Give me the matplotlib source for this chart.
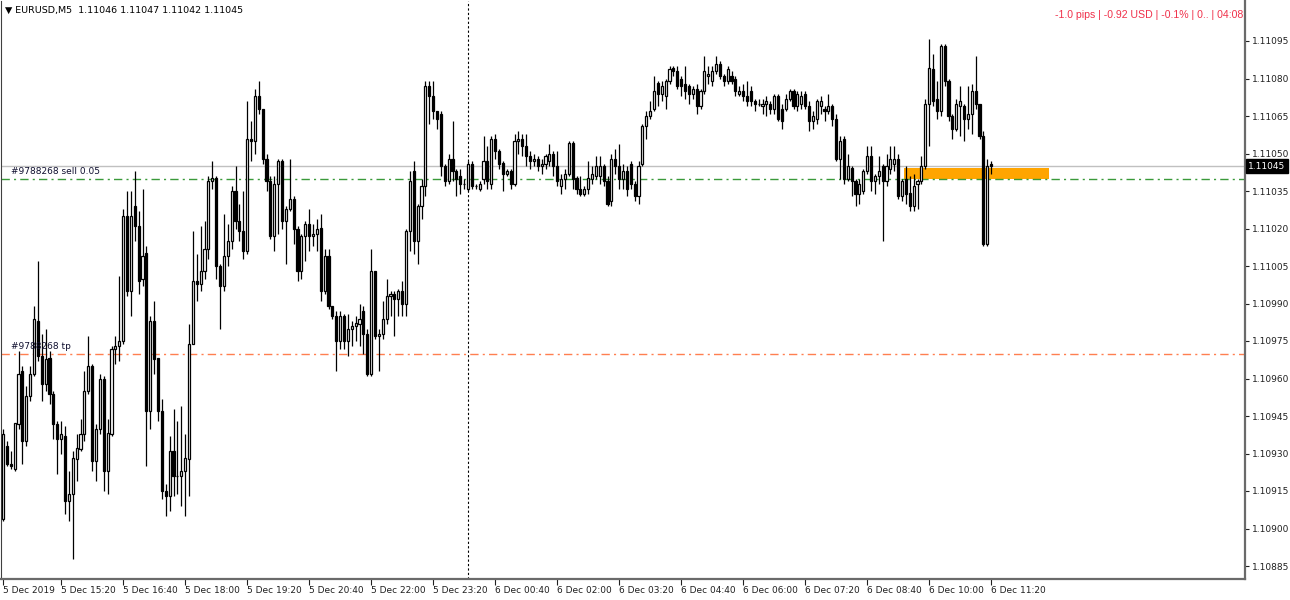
import matplotlib
matplotlib.use("Agg")
import matplotlib.pyplot as plt
import matplotlib.transforms as mtransforms
import numpy as np
import pandas as pd

# EURUSD M5 bars, 5 Dec 2019 14:05 -> 6 Dec 2019 11:20
opens = [
    1.10904, 1.10933, 1.10926, 1.10924, 1.10942, 1.10963, 1.10935, 1.10953, 1.10962, 1.10983,
    1.10969, 1.10958, 1.10968, 1.10954, 1.10942, 1.10936, 1.10937, 1.10911, 1.10914, 1.10928,
    1.10932, 1.10938, 1.10955, 1.10965, 1.10927, 1.10940, 1.10960, 1.10923, 1.10938, 1.10972,
    1.10973, 1.10975, 1.11025, 1.10995, 1.11029, 1.11021, 1.11000, 1.11010, 1.10947, 1.10983,
    1.10968, 1.10947, 1.10915, 1.10913, 1.10931, 1.10921, 1.10921, 1.10923, 1.10928, 1.10974,
    1.10999, 1.10998, 1.11003, 1.11012, 1.11039, 1.11040, 1.11005, 1.10997, 1.11009, 1.11015,
    1.11035, 1.11023, 1.11019, 1.11011, 1.11056, 1.11055, 1.11073, 1.11068, 1.11048, 1.11039,
    1.11017, 1.11038, 1.11047, 1.11023, 1.11028, 1.11032, 1.11020, 1.11003, 1.11017, 1.11022,
    1.11017, 1.11018, 1.11020, 1.10995, 1.11009, 1.10989, 1.10985, 1.10975, 1.10985, 1.10975,
    1.10980, 1.10981, 1.10982, 1.10987, 1.10978, 1.10962, 1.11003, 1.10977, 1.10978, 1.10984,
    1.10993, 1.10994, 1.10992, 1.10995, 1.10990, 1.11019, 1.11043, 1.11015, 1.11029, 1.11037,
    1.11077, 1.11073, 1.11067, 1.11066, 1.11045, 1.11039, 1.11048, 1.11043, 1.11041, 1.11038,
    1.11036, 1.11046, 1.11037, 1.11036, 1.11040, 1.11047, 1.11038, 1.11056, 1.11051, 1.11046,
    1.11042, 1.11043, 1.11038, 1.11055, 1.11056, 1.11053, 1.11049, 1.11047, 1.11048, 1.11045,
    1.11046, 1.11047, 1.11050, 1.11045, 1.11037, 1.11040, 1.11042, 1.11054, 1.11040, 1.11036,
    1.11034, 1.11036, 1.11040, 1.11041, 1.11041, 1.11045, 1.11039, 1.11031, 1.11048, 1.11045,
    1.11040, 1.11043, 1.11046, 1.11038, 1.11033, 1.11046, 1.11061, 1.11065, 1.11068, 1.11078,
    1.11074, 1.11073, 1.11079, 1.11084, 1.11083, 1.11080, 1.11078, 1.11077, 1.11074, 1.11076,
    1.11069, 1.11075, 1.11081, 1.11079, 1.11083, 1.11086, 1.11081, 1.11079, 1.11081, 1.11080,
    1.11074, 1.11075, 1.11073, 1.11075, 1.11071, 1.11070, 1.11069, 1.11070, 1.11070, 1.11068,
    1.11073, 1.11068, 1.11068, 1.11072, 1.11075, 1.11069, 1.11070, 1.11074, 1.11069, 1.11063,
    1.11064, 1.11069, 1.11068, 1.11067, 1.11069, 1.11064, 1.11048, 1.11056, 1.11040, 1.11044,
    1.11039, 1.11034, 1.11035, 1.11043, 1.11049, 1.11039, 1.11041, 1.11045, 1.11039, 1.11044,
    1.11046, 1.11048, 1.11033, 1.11040, 1.11034, 1.11029, 1.11038, 1.11039, 1.11045, 1.11070,
    1.11084, 1.11072, 1.11067, 1.11093, 1.11079, 1.11065, 1.11060, 1.11069, 1.11069, 1.11064,
    1.11066, 1.11075, 1.11070, 1.11057, 1.11014, 1.11046,
]
closes = [
    1.10938, 1.10926, 1.10925, 1.10942, 1.10962, 1.10935, 1.10953, 1.10962, 1.10984, 1.10969,
    1.10958, 1.10968, 1.10954, 1.10942, 1.10936, 1.10938, 1.10911, 1.10914, 1.10928, 1.10932,
    1.10938, 1.10955, 1.10965, 1.10927, 1.10940, 1.10960, 1.10923, 1.10938, 1.10972, 1.10973,
    1.10975, 1.11025, 1.10995, 1.11025, 1.11021, 1.10999, 1.11009, 1.10947, 1.10983, 1.10968,
    1.10947, 1.10915, 1.10913, 1.10931, 1.10921, 1.10921, 1.10923, 1.10928, 1.10974, 1.10999,
    1.10998, 1.11003, 1.11012, 1.11039, 1.11040, 1.11005, 1.10997, 1.11009, 1.11015, 1.11035,
    1.11023, 1.11019, 1.11011, 1.11056, 1.11055, 1.11073, 1.11068, 1.11048, 1.11039, 1.11017,
    1.11038, 1.11047, 1.11023, 1.11028, 1.11032, 1.11020, 1.11003, 1.11017, 1.11022, 1.11017,
    1.11018, 1.11020, 1.10995, 1.11009, 1.10989, 1.10985, 1.10975, 1.10985, 1.10975, 1.10980,
    1.10981, 1.10982, 1.10984, 1.10978, 1.10962, 1.11003, 1.10977, 1.10978, 1.10984, 1.10993,
    1.10994, 1.10992, 1.10995, 1.10990, 1.11019, 1.11039, 1.11015, 1.11029, 1.11037, 1.11077,
    1.11073, 1.11067, 1.11064, 1.11045, 1.11039, 1.11048, 1.11043, 1.11040, 1.11038, 1.11038,
    1.11046, 1.11037, 1.11037, 1.11038, 1.11047, 1.11039, 1.11056, 1.11051, 1.11046, 1.11042,
    1.11043, 1.11038, 1.11055, 1.11056, 1.11053, 1.11049, 1.11047, 1.11048, 1.11045, 1.11046,
    1.11049, 1.11050, 1.11045, 1.11039, 1.11040, 1.11042, 1.11054, 1.11040, 1.11036, 1.11034,
    1.11036, 1.11040, 1.11042, 1.11045, 1.11045, 1.11039, 1.11030, 1.11048, 1.11045, 1.11040,
    1.11043, 1.11036, 1.11038, 1.11033, 1.11045, 1.11061, 1.11065, 1.11067, 1.11075, 1.11074,
    1.11077, 1.11079, 1.11084, 1.11083, 1.11077, 1.11077, 1.11075, 1.11074, 1.11076, 1.11069,
    1.11075, 1.11083, 1.11082, 1.11083, 1.11086, 1.11081, 1.11079, 1.11084, 1.11079, 1.11075,
    1.11075, 1.11073, 1.11071, 1.11071, 1.11070, 1.11070, 1.11070, 1.11071, 1.11068, 1.11073,
    1.11064, 1.11063, 1.11072, 1.11075, 1.11069, 1.11074, 1.11073, 1.11069, 1.11063, 1.11065,
    1.11071, 1.11071, 1.11067, 1.11069, 1.11064, 1.11048, 1.11055, 1.11040, 1.11045, 1.11039,
    1.11034, 1.11038, 1.11043, 1.11049, 1.11039, 1.11041, 1.11043, 1.11039, 1.11045, 1.11048,
    1.11048, 1.11033, 1.11039, 1.11034, 1.11029, 1.11037, 1.11039, 1.11045, 1.11070, 1.11084,
    1.11071, 1.11067, 1.11093, 1.11079, 1.11065, 1.11060, 1.11070, 1.11071, 1.11064, 1.11066,
    1.11075, 1.11070, 1.11057, 1.11014, 1.11045, 1.11045,
]
highs = [
    1.10940, 1.10935, 1.10931, 1.10942, 1.10971, 1.10965, 1.10957, 1.10965, 1.10989, 1.11007,
    1.10978, 1.10980, 1.10971, 1.10955, 1.10943, 1.10943, 1.10941, 1.10923, 1.10931, 1.10938,
    1.10944, 1.10963, 1.10977, 1.10966, 1.10942, 1.10962, 1.10961, 1.10944, 1.10973, 1.10977,
    1.11001, 1.11028, 1.11035, 1.11035, 1.11043, 1.11027, 1.11036, 1.11013, 1.10985, 1.10991,
    1.10968, 1.10952, 1.10918, 1.10937, 1.10948, 1.10943, 1.10949, 1.10938, 1.10982, 1.11019,
    1.11010, 1.11021, 1.11023, 1.11041, 1.11047, 1.11041, 1.11006, 1.11026, 1.11022, 1.11037,
    1.11045, 1.11030, 1.11035, 1.11071, 1.11063, 1.11076, 1.11079, 1.11068, 1.11050, 1.11041,
    1.11041, 1.11048, 1.11048, 1.11029, 1.11048, 1.11033, 1.11021, 1.11018, 1.11023, 1.11028,
    1.11022, 1.11024, 1.11026, 1.11012, 1.11012, 1.10989, 1.10987, 1.10987, 1.10986, 1.10986,
    1.10983, 1.10985, 1.10990, 1.10989, 1.10980, 1.11012, 1.11003, 1.10980, 1.10991, 1.11000,
    1.10995, 1.10995, 1.10996, 1.10999, 1.11020, 1.11043, 1.11047, 1.11030, 1.11040, 1.11079,
    1.11079, 1.11079, 1.11067, 1.11067, 1.11046, 1.11050, 1.11063, 1.11044, 1.11044, 1.11040,
    1.11047, 1.11047, 1.11038, 1.11039, 1.11057, 1.11053, 1.11057, 1.11058, 1.11052, 1.11047,
    1.11044, 1.11044, 1.11058, 1.11059, 1.11058, 1.11058, 1.11051, 1.11050, 1.11049, 1.11048,
    1.11050, 1.11054, 1.11051, 1.11051, 1.11042, 1.11044, 1.11055, 1.11055, 1.11041, 1.11041,
    1.11037, 1.11047, 1.11045, 1.11049, 1.11049, 1.11046, 1.11041, 1.11050, 1.11052, 1.11054,
    1.11046, 1.11045, 1.11047, 1.11039, 1.11047, 1.11062, 1.11067, 1.11071, 1.11081, 1.11079,
    1.11079, 1.11080, 1.11085, 1.11085, 1.11085, 1.11081, 1.11085, 1.11078, 1.11077, 1.11078,
    1.11076, 1.11089, 1.11085, 1.11085, 1.11089, 1.11087, 1.11082, 1.11085, 1.11083, 1.11081,
    1.11077, 1.11078, 1.11079, 1.11077, 1.11072, 1.11072, 1.11072, 1.11073, 1.11071, 1.11074,
    1.11074, 1.11070, 1.11074, 1.11076, 1.11076, 1.11075, 1.11075, 1.11075, 1.11071, 1.11067,
    1.11072, 1.11073, 1.11069, 1.11074, 1.11070, 1.11066, 1.11057, 1.11057, 1.11050, 1.11045,
    1.11040, 1.11040, 1.11044, 1.11053, 1.11053, 1.11042, 1.11049, 1.11046, 1.11050, 1.11053,
    1.11053, 1.11050, 1.11040, 1.11045, 1.11041, 1.11042, 1.11040, 1.11049, 1.11072, 1.11096,
    1.11090, 1.11079, 1.11094, 1.11094, 1.11080, 1.11066, 1.11072, 1.11077, 1.11070, 1.11077,
    1.11078, 1.11089, 1.11070, 1.11059, 1.11048, 1.11047,
]
lows = [
    1.10903, 1.10925, 1.10924, 1.10923, 1.10940, 1.10926, 1.10933, 1.10951, 1.10961, 1.10967,
    1.10951, 1.10955, 1.10950, 1.10936, 1.10922, 1.10930, 1.10906, 1.10903, 1.10888, 1.10919,
    1.10931, 1.10935, 1.10954, 1.10923, 1.10919, 1.10938, 1.10915, 1.10914, 1.10937, 1.10966,
    1.10967, 1.10974, 1.10993, 1.10985, 1.11015, 1.10994, 1.10997, 1.10925, 1.10940, 1.10962,
    1.10943, 1.10912, 1.10905, 1.10907, 1.10913, 1.10914, 1.10909, 1.10905, 1.10913, 1.10974,
    1.10991, 1.10995, 1.11000, 1.11008, 1.11036, 1.11000, 1.10980, 1.10995, 1.11005, 1.11012,
    1.11020, 1.11015, 1.11008, 1.11010, 1.11047, 1.11050, 1.11066, 1.11046, 1.11035, 1.11016,
    1.11011, 1.11018, 1.11020, 1.11006, 1.11027, 1.11014, 1.10999, 1.11000, 1.11007, 1.11011,
    1.11013, 1.11011, 1.10991, 1.10994, 1.10988, 1.10984, 1.10963, 1.10972, 1.10972, 1.10969,
    1.10973, 1.10975, 1.10973, 1.10970, 1.10961, 1.10961, 1.10976, 1.10963, 1.10976, 1.10982,
    1.10985, 1.10977, 1.10985, 1.10985, 1.10985, 1.11011, 1.11010, 1.11006, 1.11024, 1.11033,
    1.11062, 1.11064, 1.11060, 1.11041, 1.11037, 1.11038, 1.11039, 1.11033, 1.11034, 1.11036,
    1.11035, 1.11036, 1.11036, 1.11035, 1.11038, 1.11036, 1.11036, 1.11048, 1.11044, 1.11035,
    1.11041, 1.11036, 1.11037, 1.11050, 1.11049, 1.11045, 1.11044, 1.11045, 1.11043, 1.11042,
    1.11044, 1.11045, 1.11041, 1.11037, 1.11034, 1.11036, 1.11041, 1.11036, 1.11034, 1.11033,
    1.11033, 1.11034, 1.11038, 1.11040, 1.11038, 1.11037, 1.11029, 1.11029, 1.11042, 1.11036,
    1.11036, 1.11033, 1.11036, 1.11031, 1.11030, 1.11045, 1.11056, 1.11064, 1.11067, 1.11069,
    1.11071, 1.11068, 1.11078, 1.11081, 1.11076, 1.11073, 1.11072, 1.11070, 1.11072, 1.11066,
    1.11068, 1.11074, 1.11078, 1.11077, 1.11082, 1.11080, 1.11077, 1.11078, 1.11078, 1.11073,
    1.11073, 1.11071, 1.11069, 1.11069, 1.11067, 1.11069, 1.11066, 1.11065, 1.11066, 1.11066,
    1.11063, 1.11060, 1.11067, 1.11071, 1.11068, 1.11067, 1.11068, 1.11068, 1.11059, 1.11060,
    1.11062, 1.11066, 1.11063, 1.11066, 1.11061, 1.11047, 1.11040, 1.11038, 1.11039, 1.11033,
    1.11029, 1.11030, 1.11034, 1.11042, 1.11035, 1.11034, 1.11038, 1.11015, 1.11037, 1.11042,
    1.11043, 1.11032, 1.11031, 1.11030, 1.11027, 1.11027, 1.11028, 1.11038, 1.11044, 1.11053,
    1.11069, 1.11064, 1.11065, 1.11077, 1.11063, 1.11056, 1.11059, 1.11057, 1.11055, 1.11060,
    1.11058, 1.11068, 1.11056, 1.11013, 1.11013, 1.11042,
]

first_bar = "2019-12-05 14:05"
separator_bar = "2019-12-06 00:05"
bid_price = 1.11045
order_price = 1.11040
tp_price = 1.10970
rect_start, rect_end = "2019-12-06 09:27", "2019-12-06 12:35"
rect_low, rect_high = 1.11040, 1.11044
price_ticks = [1.10885, 1.10900, 1.10915, 1.10930, 1.10945, 1.10960, 1.10975,
               1.10990, 1.11005, 1.11020, 1.11035, 1.11050, 1.11065, 1.11080, 1.11095]

n = len(closes)
times = pd.date_range(first_bar, periods=n, freq="5min")
t0 = times[0]


def bar_pos(ts):
    return (pd.Timestamp(ts) - t0) / pd.Timedelta("5min")


o = np.array(opens)
c = np.array(closes)
h = np.array(highs)
l = np.array(lows)
x = np.arange(n)
up = c >= o

fig = plt.figure(figsize=(12.9, 6.0), dpi=100)
ax = fig.add_axes([1 / 1290, 21 / 600, 1244 / 1290, 578 / 600])
ax.set_xlim(-0.52, 320.5)
ax.set_ylim(1.108798, 1.11111)

# background objects
ax.add_patch(plt.Rectangle((bar_pos(rect_start), rect_low), bar_pos(rect_end) - bar_pos(rect_start),
                           rect_high - rect_low, color="#ffa500", lw=0, zorder=1))
ax.axhline(bid_price, color="#c0c0c0", lw=1, zorder=1)
ax.axhline(order_price, color="#3a9a3a", lw=1, ls=(0, (6, 3, 1.5, 3)), zorder=1)
ax.axhline(tp_price, color="#ff7f50", lw=1, ls=(0, (6, 3, 1.5, 3)), zorder=1)
ax.axvline(bar_pos(separator_bar), color="black", lw=0.8, ls=(0, (2, 2)), zorder=1)

# candles
ax.vlines(x, l, h, color="black", lw=0.9, zorder=2)
body_lo = np.minimum(o, c)
body_h = np.abs(c - o)
ax.bar(x[up], body_h[up], bottom=body_lo[up], width=0.55, color="white",
       edgecolor="black", lw=0.9, zorder=3)
ax.bar(x[~up], body_h[~up], bottom=body_lo[~up], width=0.55, color="black",
       edgecolor="black", lw=0.9, zorder=3)

# order labels
ax.text(2, order_price + 0.000012, "#9788268 sell 0.05", fontsize=6.5, color="#101030",
        va="bottom", zorder=4)
ax.text(2, tp_price + 0.000012, "#9788268 tp", fontsize=6.5, color="#101030",
        va="bottom", zorder=4)

# axes look
ax.spines["top"].set_visible(False)
ax.spines["left"].set_color("#404040")
ax.spines["left"].set_linewidth(0.8)
ax.spines["right"].set_color("#6a6a6a")
ax.spines["right"].set_linewidth(1.6)
ax.spines["bottom"].set_color("#6a6a6a")
ax.spines["bottom"].set_linewidth(1.6)

ax.yaxis.tick_right()
ax.set_yticks(price_ticks)
ax.set_yticklabels([f"{p:.5f}" for p in price_ticks])
ax.tick_params(axis="y", length=3, width=0.8, pad=2, labelsize=6.5, colors="#202020")

tick_idx = [0] + list(range(15, n, 16))
tick_labels = []
for k in tick_idx:
    t = times[k]
    if k == 0:
        tick_labels.append(f"{t.day} {t.strftime('%b %Y')}")
    else:
        tick_labels.append(f"{t.day} {t.strftime('%b %H:%M')}")
ax.set_xticks(tick_idx)
ax.set_xticklabels(tick_labels, ha="left")
ax.tick_params(axis="x", length=4, width=0.8, pad=1, labelsize=6.5, colors="#202020")

# current price box
ytr = mtransforms.blended_transform_factory(ax.transAxes, ax.transData)
ax.text(1.0025, bid_price, f"{bid_price:.5f}", transform=ytr, fontsize=6.5, color="white",
        va="center", ha="left", zorder=5,
        bbox=dict(boxstyle="square,pad=0.25", fc="black", ec="black"))

# header texts
fig.text(5 / 1290, 1 - 10 / 600,
         f"\u25bc EURUSD,M5  {opens[-1]:.5f} {highs[-1]:.5f} {lows[-1]:.5f} {closes[-1]:.5f}",
         fontsize=6.8, color="black", va="center", ha="left")
fig.text(1243 / 1290, 1 - 15 / 600, "-1.0 pips | -0.92 USD | -0.1% | 0.. | 04:08",
         fontsize=7.6, color="#f0304a", va="center", ha="right", family="Liberation Sans")

fig.savefig("out.png", dpi=100, facecolor="white")
